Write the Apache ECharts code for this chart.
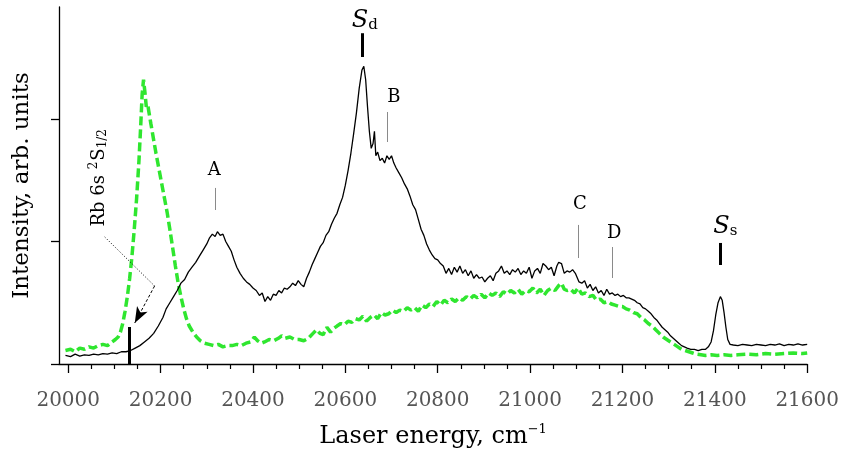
<!DOCTYPE html>
<html lang="en">
<head>
    <meta charset="UTF-8">
    <title>Rb spectrum</title>
    <style type="text/css">
        html,
        body,
        .canvas {
            padding: 0;
            margin: 0;
            overflow: hidden;
            background-color: #fff;
            width: 100%;
            height: 100%;
        }
    </style>
</head>
<body>
<div class="canvas" id="chart"></div>
<script type="text/javascript" src="https://cdn.jsdelivr.net/npm/echarts@6/dist/echarts.min.js"></script>
<script>
    // tick labels
    const majorTicks = [20000, 20200, 20400, 20600, 20800, 21000, 21200, 21400, 21600];
    const minorTicks = [20050, 20100, 20150, 20250, 20300, 20350, 20450, 20500, 20550, 20650, 20700, 20750,
        20850, 20900, 20950, 21050, 21100, 21150, 21250, 21300, 21350, 21450, 21500, 21550];
    const yTicks = [0, 1, 2];

    // black trace: [laser energy, intensity]
    const blackTrace = [
        [19994, 0.07], [20005, 0.06], [20015, 0.08], [20025, 0.065], [20035, 0.075], [20045, 0.07],
        [20055, 0.08], [20065, 0.075], [20075, 0.085], [20085, 0.08], [20095, 0.09], [20105, 0.085],
        [20115, 0.10], [20125, 0.10], [20135, 0.11], [20145, 0.13], [20155, 0.15], [20165, 0.18],
        [20175, 0.21], [20185, 0.25], [20195, 0.31], [20205, 0.38], [20212, 0.45], [20220, 0.50],
        [20228, 0.55], [20236, 0.60], [20244, 0.66], [20252, 0.69], [20260, 0.75], [20268, 0.79],
        [20276, 0.83], [20284, 0.88], [20292, 0.93], [20300, 0.98], [20306, 1.03], [20312, 1.06],
        [20318, 1.04], [20323, 1.08], [20329, 1.05], [20335, 1.06], [20341, 1.00], [20347, 0.96],
        [20353, 0.92], [20359, 0.85], [20365, 0.79], [20372, 0.74], [20379, 0.70], [20386, 0.67],
        [20393, 0.65], [20400, 0.62], [20407, 0.60], [20414, 0.56], [20420, 0.58], [20426, 0.51],
        [20432, 0.55], [20438, 0.52], [20444, 0.57], [20450, 0.56], [20456, 0.60], [20462, 0.58],
        [20468, 0.62], [20474, 0.61], [20480, 0.63], [20486, 0.66], [20492, 0.64], [20498, 0.68],
        [20504, 0.65], [20510, 0.63], [20516, 0.70], [20522, 0.75], [20528, 0.81], [20534, 0.86],
        [20540, 0.91], [20546, 0.96], [20552, 0.99], [20558, 1.05], [20564, 1.08], [20570, 1.14],
        [20576, 1.19], [20582, 1.23], [20588, 1.30], [20594, 1.36], [20600, 1.46], [20606, 1.58],
        [20612, 1.72], [20618, 1.88], [20624, 2.05], [20630, 2.25], [20636, 2.40], [20640, 2.43],
        [20644, 2.32], [20648, 2.10], [20652, 1.90], [20656, 1.76], [20660, 1.80], [20663, 1.90],
        [20666, 1.70], [20670, 1.73], [20675, 1.66], [20680, 1.68], [20685, 1.64], [20690, 1.70],
        [20695, 1.67], [20700, 1.70], [20705, 1.64], [20710, 1.60], [20716, 1.56], [20722, 1.52],
        [20728, 1.47], [20734, 1.43], [20740, 1.37], [20746, 1.30], [20752, 1.26], [20758, 1.18],
        [20764, 1.10], [20770, 1.05], [20776, 0.98], [20782, 0.93], [20788, 0.89], [20794, 0.86],
        [20800, 0.85], [20806, 0.82], [20812, 0.80], [20818, 0.74], [20824, 0.78], [20830, 0.73],
        [20836, 0.79], [20842, 0.75], [20848, 0.80], [20854, 0.74], [20860, 0.77], [20866, 0.72],
        [20872, 0.76], [20878, 0.70], [20884, 0.73], [20890, 0.70], [20896, 0.71], [20902, 0.67],
        [20908, 0.70], [20914, 0.72], [20920, 0.68], [20926, 0.74], [20932, 0.76], [20938, 0.80],
        [20944, 0.74], [20950, 0.76], [20956, 0.73], [20962, 0.77], [20968, 0.75], [20974, 0.78],
        [20980, 0.73], [20986, 0.76], [20992, 0.74], [20998, 0.79], [21004, 0.70], [21010, 0.76],
        [21016, 0.78], [21022, 0.74], [21028, 0.82], [21034, 0.80], [21040, 0.77], [21046, 0.79],
        [21052, 0.72], [21058, 0.80], [21062, 0.83], [21068, 0.82], [21074, 0.74], [21080, 0.76],
        [21086, 0.75], [21092, 0.77], [21098, 0.74], [21102, 0.75], [21106, 0.67], [21112, 0.66],
        [21118, 0.68], [21124, 0.62], [21130, 0.65], [21136, 0.60], [21142, 0.63], [21148, 0.58],
        [21154, 0.60], [21160, 0.56], [21166, 0.61], [21172, 0.57], [21178, 0.58], [21184, 0.56],
        [21190, 0.57], [21196, 0.55], [21202, 0.56], [21208, 0.54], [21214, 0.54], [21220, 0.53],
        [21226, 0.52], [21232, 0.50], [21238, 0.49], [21244, 0.46], [21250, 0.45], [21256, 0.43],
        [21262, 0.41], [21268, 0.38], [21274, 0.36], [21280, 0.33], [21286, 0.30], [21292, 0.28],
        [21298, 0.26], [21304, 0.23], [21310, 0.21], [21316, 0.19], [21322, 0.17], [21328, 0.15],
        [21334, 0.14], [21340, 0.13], [21348, 0.12], [21356, 0.12], [21364, 0.11], [21372, 0.12],
        [21380, 0.12], [21386, 0.14], [21392, 0.18], [21397, 0.27], [21402, 0.40], [21407, 0.50],
        [21412, 0.55], [21416, 0.52], [21420, 0.42], [21424, 0.30], [21428, 0.20], [21433, 0.16],
        [21440, 0.155], [21450, 0.15], [21460, 0.16], [21470, 0.155], [21480, 0.15], [21490, 0.16],
        [21500, 0.155], [21510, 0.15], [21520, 0.16], [21530, 0.155], [21540, 0.165], [21550, 0.15],
        [21560, 0.16], [21570, 0.155], [21580, 0.165], [21590, 0.155], [21600, 0.16]
    ];

    // green (dashed) trace: [laser energy, intensity]
    const greenTrace = [
        [19994, 0.11], [20005, 0.12], [20015, 0.10], [20025, 0.13], [20035, 0.12], [20045, 0.14],
        [20055, 0.13], [20065, 0.15], [20075, 0.16], [20085, 0.15], [20095, 0.18], [20102, 0.20],
        [20108, 0.22], [20113, 0.26], [20118, 0.33], [20123, 0.43], [20128, 0.55], [20133, 0.70],
        [20138, 0.88], [20143, 1.10], [20148, 1.35], [20153, 1.65], [20157, 1.95], [20160, 2.20],
        [20163, 2.32], [20166, 2.22], [20169, 2.10], [20172, 2.12], [20175, 2.05], [20179, 1.96],
        [20184, 1.85], [20190, 1.72], [20196, 1.60], [20202, 1.48], [20208, 1.36], [20214, 1.24],
        [20220, 1.10], [20226, 0.95], [20232, 0.80], [20238, 0.66], [20244, 0.55], [20250, 0.45],
        [20256, 0.37], [20262, 0.31], [20270, 0.26], [20278, 0.22], [20286, 0.19], [20295, 0.17],
        [20305, 0.16], [20315, 0.15], [20325, 0.16], [20335, 0.14], [20345, 0.15], [20355, 0.15],
        [20365, 0.16], [20375, 0.15], [20385, 0.17], [20395, 0.18], [20403, 0.22], [20410, 0.19],
        [20418, 0.17], [20425, 0.18], [20435, 0.20], [20445, 0.19], [20455, 0.21], [20462, 0.23],
        [20470, 0.21], [20480, 0.22], [20490, 0.20], [20500, 0.20], [20510, 0.19], [20520, 0.21],
        [20530, 0.25], [20538, 0.28], [20545, 0.25], [20552, 0.24], [20560, 0.30], [20568, 0.26],
        [20575, 0.29], [20582, 0.31], [20590, 0.33], [20598, 0.32], [20606, 0.35], [20614, 0.34],
        [20622, 0.37], [20630, 0.36], [20638, 0.39], [20646, 0.35], [20654, 0.38], [20662, 0.40],
        [20670, 0.37], [20678, 0.42], [20686, 0.40], [20694, 0.41], [20702, 0.44], [20710, 0.42],
        [20718, 0.44], [20726, 0.43], [20734, 0.46], [20742, 0.44], [20750, 0.46], [20758, 0.43],
        [20766, 0.48], [20774, 0.46], [20782, 0.49], [20790, 0.47], [20798, 0.51], [20806, 0.48],
        [20814, 0.52], [20822, 0.50], [20830, 0.53], [20838, 0.51], [20846, 0.54], [20854, 0.52],
        [20862, 0.55], [20870, 0.53], [20878, 0.56], [20886, 0.54], [20894, 0.57], [20902, 0.54],
        [20910, 0.58], [20918, 0.56], [20926, 0.58], [20934, 0.55], [20942, 0.59], [20950, 0.57],
        [20958, 0.60], [20966, 0.58], [20974, 0.61], [20982, 0.57], [20990, 0.60], [20998, 0.59],
        [21006, 0.62], [21014, 0.58], [21022, 0.61], [21030, 0.56], [21038, 0.60], [21046, 0.62],
        [21054, 0.60], [21062, 0.64], [21068, 0.66], [21074, 0.61], [21080, 0.60], [21088, 0.61],
        [21096, 0.58], [21104, 0.62], [21112, 0.57], [21120, 0.58], [21128, 0.55], [21136, 0.56],
        [21144, 0.52], [21152, 0.53], [21160, 0.50], [21168, 0.51], [21176, 0.49], [21184, 0.48],
        [21192, 0.47], [21200, 0.47], [21208, 0.45], [21216, 0.44], [21224, 0.42], [21232, 0.41],
        [21240, 0.38], [21248, 0.36], [21256, 0.33], [21264, 0.31], [21272, 0.28], [21280, 0.25],
        [21288, 0.22], [21296, 0.20], [21304, 0.18], [21312, 0.16], [21320, 0.14], [21328, 0.12],
        [21336, 0.11], [21344, 0.10], [21352, 0.09], [21360, 0.08], [21370, 0.075], [21380, 0.07],
        [21392, 0.075], [21405, 0.07], [21420, 0.075], [21435, 0.07], [21450, 0.075], [21470, 0.08],
        [21490, 0.075], [21510, 0.085], [21530, 0.08], [21550, 0.085], [21570, 0.09], [21590, 0.085],
        [21600, 0.09]
    ];

    const serif = '"DejaVu Serif", serif';

    // peak labels (text) and the small marker lines under them, in data coordinates
    const labelItems = [
        {text: 'A', at: [20316, 1.58]},
        {text: 'B', at: [20705, 2.18]},
        {text: 'C', at: [21108, 1.30]},
        {text: 'D', at: [21182, 1.07]},
        {text: '{s|S}{sub|d}', at: [20642, 2.81]},
        {text: '{s|S}{sub|s}', at: [21423, 1.13]},
        {text: '{rb|Rb 6s }{sup|2}{rb|S}{rsub|1/2}', at: [20064, 1.52], rotate: 90}
    ];
    const thinLines = [
        [[20319, 1.437], [20319, 1.257]],
        [[20690, 2.057], [20690, 1.812]],
        [[21104, 1.135], [21104, 0.865]],
        [[21177, 0.955], [21177, 0.702]]
    ];
    const thickLines = [
        [[20636, 2.70], [20636, 2.506]],
        [[21412, 0.988], [21412, 0.808]],
        [[20133, 0.302], [20133, 0]]
    ];
    const leader = [[20079, 1.037], [20187, 0.637], [20144, 0.335]];

    const chart = echarts.init(document.getElementById('chart'), null, {renderer: 'canvas'});

    const markLines = [];
    thinLines.forEach(function (l) {
        markLines.push([{coord: l[0], lineStyle: {color: '#8a8a8a', width: 1, type: 'solid'}}, {coord: l[1]}]);
    });
    thickLines.forEach(function (l) {
        markLines.push([{coord: l[0], lineStyle: {color: '#000', width: 3, type: 'solid'}}, {coord: l[1]}]);
    });
    markLines.push([{coord: leader[0], lineStyle: {color: '#000', width: 1, type: [1, 2]}}, {coord: leader[1]}]);
    markLines.push([
        {coord: leader[1], symbol: 'none', lineStyle: {color: '#000', width: 1, type: [3, 2]}},
        {coord: leader[2], symbol: 'arrow', symbolSize: [9, 16]}
    ]);

    const richStyles = {
        s: {fontFamily: serif, fontStyle: 'italic', fontSize: 24, color: '#000', verticalAlign: 'bottom', lineHeight: 26},
        sub: {fontFamily: serif, fontSize: 15, color: '#000', verticalAlign: 'bottom', lineHeight: 14},
        rb: {fontFamily: serif, fontSize: 18, color: '#000', verticalAlign: 'bottom', lineHeight: 22},
        sup: {fontFamily: serif, fontSize: 12, color: '#000', verticalAlign: 'bottom', lineHeight: 12, padding: [0, 1, 9, 0]},
        rsub: {fontFamily: serif, fontSize: 12, color: '#000', verticalAlign: 'bottom', lineHeight: 11}
    };

    const option = {
        animation: false,
        backgroundColor: '#fff',
        grid: {left: 59, right: 32, top: 7, bottom: 90, containLabel: false},
        xAxis: [{
            type: 'value',
            min: 19980,
            max: 21600,
            name: 'Laser energy, cm{sup|−1}',
            nameLocation: 'middle',
            nameGap: 59,
            nameTextStyle: {
                fontFamily: serif, fontSize: 24, color: '#000',
                rich: {sup: {fontFamily: serif, fontSize: 13, color: '#000', padding: [0, 0, 14, 0]}}
            },
            axisLine: {show: true, onZero: false, lineStyle: {color: '#000', width: 1.3}},
            axisTick: {show: true, customValues: majorTicks, length: 9, lineStyle: {color: '#000', width: 1.3}},
            axisLabel: {
                show: true, customValues: majorTicks, margin: 27,
                fontFamily: serif, fontSize: 20, color: '#555',
                formatter: function (v) { return String(v); }
            },
            splitLine: {show: false}
        }, {
            type: 'value',
            min: 19980,
            max: 21600,
            position: 'bottom',
            axisLine: {show: false},
            axisTick: {show: true, customValues: minorTicks, length: 5, lineStyle: {color: '#000', width: 1.2}},
            axisLabel: {show: false},
            splitLine: {show: false}
        }],
        yAxis: {
            type: 'value',
            min: 0,
            max: 2.914,
            name: 'Intensity, arb. units',
            nameLocation: 'middle',
            nameGap: 25,
            nameTextStyle: {fontFamily: serif, fontSize: 23, color: '#000'},
            axisLine: {show: true, onZero: false, lineStyle: {color: '#000', width: 1.3}},
            axisTick: {show: true, customValues: yTicks, length: 8, lineStyle: {color: '#000', width: 1.3}},
            axisLabel: {show: false},
            splitLine: {show: false}
        },
        series: [{
            name: 'green',
            type: 'line',
            data: greenTrace,
            showSymbol: false,
            symbol: 'none',
            lineStyle: {color: '#2fe62f', width: 3.5, type: [9, 4]},
            z: 2
        }, {
            name: 'black',
            type: 'line',
            data: blackTrace,
            showSymbol: false,
            symbol: 'none',
            lineStyle: {color: '#000', width: 1.3},
            z: 3,
            markLine: {
                silent: true,
                symbol: 'none',
                label: {show: false},
                data: markLines
            },
            markPoint: {
                silent: true,
                symbol: 'circle',
                symbolSize: 0,
                data: labelItems.map(function (it) {
                    return {
                        coord: it.at,
                        label: {
                            show: true,
                            position: 'inside',
                            rotate: it.rotate || 0,
                            formatter: it.text,
                            fontFamily: serif,
                            fontSize: 18,
                            color: '#000',
                            rich: richStyles
                        }
                    };
                })
            }
        }]
    };

    chart.setOption(option);
</script>
</body>
</html>
